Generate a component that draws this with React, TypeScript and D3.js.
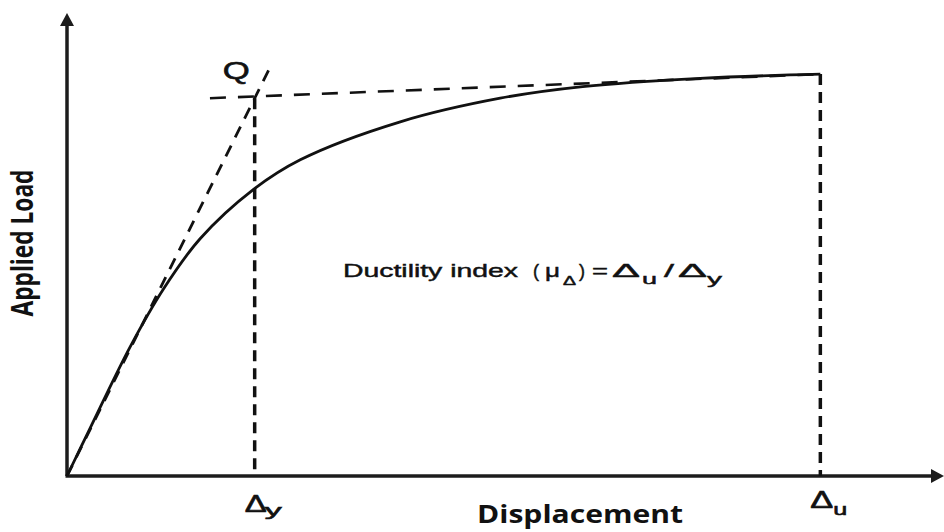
import React from "react";
import * as d3 from "d3";

// Load–displacement curve (arbitrary units, 0–100 on both axes)
const displacement = [0, 2.6, 7.2, 11.0, 15.2, 21.2, 26.6, 38.0, 49.4, 58.8, 72.2, 85.9];
const load = [0, 10.2, 27.9, 40.4, 51.3, 61.8, 68.3, 76.5, 81.6, 84.1, 85.9, 86.8];

// Key points
const yieldDisp = 21.4; // Δy
const yieldLoad = 81.6; // Q
const ultDisp = 85.9; // Δu
const ultLoad = 86.8;
const plateauStart = 16.3; // start of the dashed horizontal through Q
const tangentExtend = 1.08; // secant line extends a little past Q

const xLabel = "Displacement";
const yLabel = "Applied Load";
const pointLabel = "Q";

const W = 944;
const H = 532;

export default function App() {
  const x = d3.scaleLinear().domain([0, 100]).range([67, 944]);
  const y = d3.scaleLinear().domain([0, 100]).range([476, 13]);

  const pts: [number, number][] = displacement.map((d, i) => [d, load[i]]);
  const line = d3
    .line<[number, number]>()
    .x((d) => x(d[0]))
    .y((d) => y(d[1]))
    .curve(d3.curveCatmullRom.alpha(0.5));

  const ink = "#111";
  const axisInk = "#1c1c1c";
  const x0 = x(0);
  const y0 = y(0);
  const xEnd = x(100);
  const yEnd = y(100);
  const ah = 13; // arrow head length
  const aw = 7; // arrow half width

  const formula: { t: string; x: number; y: number; s: number; len: number }[] = [
    { t: "Ductility index", x: 343, y: 277, s: 19, len: 175 },
    { t: "(", x: 533, y: 277, s: 19, len: 6 },
    { t: "μ", x: 545, y: 277, s: 19, len: 15 },
    { t: "Δ", x: 563, y: 285, s: 12, len: 13 },
    { t: ")", x: 579, y: 277, s: 19, len: 6 },
    { t: "=", x: 592, y: 277, s: 19, len: 16 },
    { t: "Δ", x: 612, y: 277, s: 19, len: 28 },
    { t: "u", x: 642, y: 284, s: 15, len: 15 },
    { t: "/", x: 664, y: 277, s: 19, len: 10 },
    { t: "Δ", x: 678, y: 277, s: 19, len: 29 },
    { t: "y", x: 707, y: 284, s: 15, len: 15 },
  ];

  return (
    <svg
      width={W}
      height={H}
      viewBox={`0 0 ${W} ${H}`}
      style={{ position: "absolute", left: 0, top: 0, background: "#fff" }}
      fontFamily="'Liberation Sans', Arial, sans-serif"
    >
      <rect x={0} y={0} width={W} height={H} fill="#fff" />

      {/* axes */}
      <line x1={x0} y1={y0} x2={x0} y2={yEnd + ah - 1} stroke={axisInk} strokeWidth={3.5} />
      <path
        d={`M${x0},${yEnd} L${x0 - aw},${yEnd + ah} L${x0 + aw},${yEnd + ah} Z`}
        fill={axisInk}
      />
      <line x1={x0 - 1.5} y1={y0} x2={xEnd - ah + 1} y2={y0} stroke={axisInk} strokeWidth={3.5} />
      <path
        d={`M${xEnd},${y0} L${xEnd - ah},${y0 - aw} L${xEnd - ah},${y0 + aw} Z`}
        fill={axisInk}
      />

      {/* secant through Q */}
      <line
        x1={x(0)}
        y1={y(0)}
        x2={x(yieldDisp * tangentExtend)}
        y2={y(yieldLoad * tangentExtend)}
        stroke={ink}
        strokeWidth={2.8}
        strokeDasharray="12,9"
      />
      {/* horizontal through Q */}
      <line
        x1={x(plateauStart)}
        y1={y(yieldLoad)}
        x2={x(ultDisp)}
        y2={y(ultLoad)}
        stroke={ink}
        strokeWidth={2.6}
        strokeDasharray="16,12"
      />
      {/* verticals */}
      <line
        x1={x(yieldDisp)}
        y1={y(yieldLoad)}
        x2={x(yieldDisp)}
        y2={y0}
        stroke={ink}
        strokeWidth={3.5}
        strokeDasharray="11,7"
      />
      <line
        x1={x(ultDisp)}
        y1={y(ultLoad)}
        x2={x(ultDisp)}
        y2={y0}
        stroke={ink}
        strokeWidth={3.5}
        strokeDasharray="11,7"
      />

      {/* curve */}
      <path d={line(pts) || ""} fill="none" stroke={ink} strokeWidth={2.8} />

      {/* labels */}
      <text
        x={x(yieldDisp) - 32}
        y={79}
        fontSize={24}
        textLength={27}
        lengthAdjust="spacingAndGlyphs"
        fill={ink}
        stroke={ink}
        strokeWidth={0.6}
      >
        {pointLabel}
      </text>

      {formula.map((f, i) => (
        <text
          key={i}
          x={f.x}
          y={f.y}
          fontSize={f.s}
          textLength={f.len}
          lengthAdjust="spacingAndGlyphs"
          fill={ink}
          stroke={ink}
          strokeWidth={0.45}
        >
          {f.t}
        </text>
      ))}

      <text
        x={x(yieldDisp) - 10}
        y={512}
        fontSize={23}
        textLength={22}
        lengthAdjust="spacingAndGlyphs"
        fill={ink}
        stroke={ink}
        strokeWidth={0.6}
      >
        Δ
      </text>
      <text
        x={x(yieldDisp) + 10}
        y={516}
        fontSize={17}
        textLength={17}
        lengthAdjust="spacingAndGlyphs"
        fill={ink}
        stroke={ink}
        strokeWidth={0.6}
      >
        y
      </text>
      <text
        x={x(ultDisp) - 10}
        y={508}
        fontSize={23}
        textLength={23}
        lengthAdjust="spacingAndGlyphs"
        fill={ink}
        stroke={ink}
        strokeWidth={0.6}
      >
        Δ
      </text>
      <text
        x={x(ultDisp) + 13}
        y={515}
        fontSize={17}
        textLength={14}
        lengthAdjust="spacingAndGlyphs"
        fill={ink}
        stroke={ink}
        strokeWidth={0.6}
      >
        u
      </text>

      <text
        x={580}
        y={523}
        textAnchor="middle"
        fontSize={25}
        fontWeight="bold"
        fontFamily="'Open Sans', sans-serif"
        textLength={206}
        lengthAdjust="spacingAndGlyphs"
        fill={ink}
      >
        {xLabel}
      </text>
      <text
        transform="translate(33,243) rotate(-90)"
        textAnchor="middle"
        fontSize={30}
        fontWeight="bold"
        fontFamily="'Open Sans', sans-serif"
        textLength={147}
        lengthAdjust="spacingAndGlyphs"
        fill={ink}
      >
        {yLabel}
      </text>
    </svg>
  );
}
